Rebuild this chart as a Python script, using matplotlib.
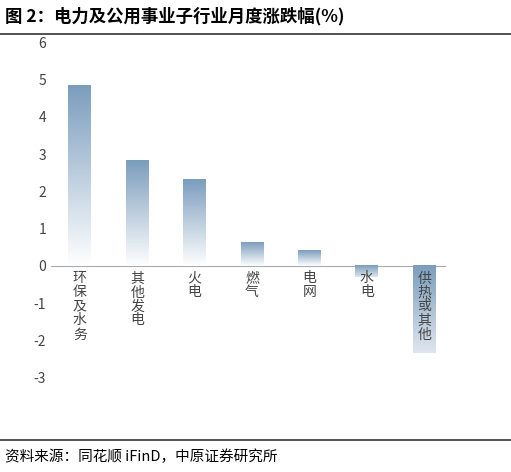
import matplotlib
matplotlib.use("Agg")
import matplotlib.pyplot as plt
import numpy as np
from matplotlib.colors import LinearSegmentedColormap

plt.rcParams['font.family'] = ['Noto Sans CJK SC', 'DejaVu Sans']
plt.rcParams['axes.unicode_minus'] = False

categories = ['环保及水务', '其他发电', '火电', '燃气', '电网', '水电', '供热或其他']
values = [4.85, 2.82, 2.33, 0.63, 0.42, -0.30, -2.35]
yticks = [-3, -2, -1, 0, 1, 2, 3, 4, 5, 6]

fig = plt.figure(figsize=(5.11, 4.72), dpi=100)
ax = fig.add_axes([0.1, 0.2, 0.82, 0.71])
ax.set_xlim(-0.5, 6.8)
ax.set_ylim(-3, 6)
cmap = LinearSegmentedColormap.from_list('g', ['#ffffff', '#7b9dbd'])
w = 0.4
for i, v in enumerate(values):
    lo, hi = min(0, v), max(0, v)
    grad = np.linspace(0, 1, 256).reshape(-1, 1)
    if v < 0:
        grad = 0.25 + grad * 0.75
    ax.imshow(grad, extent=[i - w/2, i + w/2, lo, hi], origin='lower',
              cmap=cmap, vmin=0, vmax=1, aspect='auto', zorder=2)
    ax.text(i, -0.15, '\n'.join(categories[i]), ha='center', va='top',
            fontsize=10, color='#444444', linespacing=1.0, zorder=3)
ax.axhline(0, color='#aaaaaa', lw=0.8, xmin=0, xmax=0.94, zorder=1)
ax.set_yticks(yticks)
ax.set_xticks([])
ax.tick_params(axis='y', length=0, labelsize=10, colors='#444444')
for s in ax.spines.values():
    s.set_visible(False)

fig.text(0.01, 0.965, '图 2：电力及公用事业子行业月度涨跌幅(%)', fontsize=12.5,
         fontweight='bold', va='center')
fig.add_artist(plt.Line2D([0.0, 1.0], [0.928, 0.928], color='#333333', lw=1.2))
fig.add_artist(plt.Line2D([0.0, 1.0], [0.068, 0.068], color='#333333', lw=1.2))
fig.text(0.01, 0.032, '资料来源：同花顺 iFinD，中原证券研究所', fontsize=10.5, va='center')
fig.savefig('out.png', dpi=100)
